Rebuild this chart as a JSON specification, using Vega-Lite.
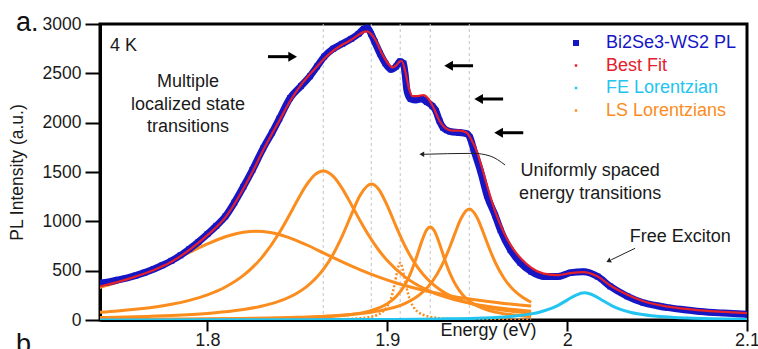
{
"$schema": "https://vega.github.io/schema/vega-lite/v6.json",
"autosize": {"type": "none"},
"padding": {"left": 100, "top": 24, "right": 11, "bottom": 29},
"width": 647,
"height": 296,
"background": "white",
"config": {
  "font": "Liberation Sans",
  "view": {"stroke": "black", "strokeWidth": 3},
  "axis": {"domainColor": "black", "domainWidth": 3, "tickColor": "black", "tickWidth": 2, "labelColor": "#1a1a1a", "titleColor": "#1a1a1a", "titleFontWeight": "normal", "grid": false, "labelFont": "Liberation Sans", "titleFont": "Liberation Sans"}
},
"datasets": {
  "vlines": [{"e": 1.8644, "v": 0, "v2": 3000}, {"e": 1.8911, "v": 0, "v2": 3000}, {"e": 1.9072, "v": 0, "v2": 3000}, {"e": 1.9239, "v": 0, "v2": 3000}, {"e": 1.9456, "v": 0, "v2": 3000}],
  "ls": [
    {"s":"C1","e":1.74,"v":328.8},{"s":"C1","e":1.75,"v":381.2},{"s":"C1","e":1.76,"v":443.2},{"s":"C1","e":1.77,"v":515.5},{"s":"C1","e":1.78,"v":597.2},{"s":"C1","e":1.79,"v":684.8},{"s":"C1","e":1.8,"v":771},{"s":"C1","e":1.81,"v":844},{"s":"C1","e":1.82,"v":890},{"s":"C1","e":1.827,"v":900},{"s":"C1","e":1.835,"v":887},{"s":"C1","e":1.845,"v":837.7},{"s":"C1","e":1.855,"v":762.7},{"s":"C1","e":1.865,"v":675.9},{"s":"C1","e":1.875,"v":588.6},{"s":"C1","e":1.885,"v":507.8},{"s":"C1","e":1.895,"v":436.6},{"s":"C1","e":1.905,"v":375.5},{"s":"C1","e":1.915,"v":324},{"s":"C1","e":1.925,"v":280.8},{"s":"C1","e":1.935,"v":244.7},{"s":"C1","e":1.945,"v":214.5},{"s":"C1","e":1.955,"v":189},{"s":"C1","e":1.965,"v":167.5},{"s":"C1","e":1.975,"v":149.3},{"s":"C1","e":1.98,"v":141.2},
    {"s":"C2","e":1.74,"v":77.8},{"s":"C2","e":1.75,"v":91.2},{"s":"C2","e":1.76,"v":108.2},{"s":"C2","e":1.77,"v":130.2},{"s":"C2","e":1.78,"v":159.5},{"s":"C2","e":1.79,"v":199.2},{"s":"C2","e":1.8,"v":254.6},{"s":"C2","e":1.81,"v":334.1},{"s":"C2","e":1.82,"v":451.6},{"s":"C2","e":1.83,"v":627.3},{"s":"C2","e":1.84,"v":884.1},{"s":"C2","e":1.845,"v":1043.2},{"s":"C2","e":1.85,"v":1211.3},{"s":"C2","e":1.855,"v":1366.4},{"s":"C2","e":1.86,"v":1476.1},{"s":"C2","e":1.8644,"v":1510},{"s":"C2","e":1.87,"v":1455.7},{"s":"C2","e":1.875,"v":1332},{"s":"C2","e":1.88,"v":1171.1},{"s":"C2","e":1.885,"v":1003.6},{"s":"C2","e":1.89,"v":848.6},{"s":"C2","e":1.895,"v":714.5},{"s":"C2","e":1.9,"v":602.3},{"s":"C2","e":1.91,"v":434.8},{"s":"C2","e":1.92,"v":322.9},{"s":"C2","e":1.93,"v":246.9},{"s":"C2","e":1.94,"v":193.7},{"s":"C2","e":1.95,"v":155.5},{"s":"C2","e":1.96,"v":127.2},{"s":"C2","e":1.97,"v":105.9},{"s":"C2","e":1.98,"v":89.4},
    {"s":"C3","e":1.74,"v":24.9},{"s":"C3","e":1.76,"v":32.9},{"s":"C3","e":1.78,"v":45.4},{"s":"C3","e":1.8,"v":66.4},{"s":"C3","e":1.81,"v":82.8},{"s":"C3","e":1.82,"v":105.8},{"s":"C3","e":1.83,"v":139.4},{"s":"C3","e":1.84,"v":191},{"s":"C3","e":1.85,"v":274.5},{"s":"C3","e":1.855,"v":336},{"s":"C3","e":1.86,"v":417.3},{"s":"C3","e":1.865,"v":525.7},{"s":"C3","e":1.87,"v":669.2},{"s":"C3","e":1.875,"v":852.3},{"s":"C3","e":1.88,"v":1065.6},{"s":"C3","e":1.885,"v":1266},{"s":"C3","e":1.8911,"v":1378},{"s":"C3","e":1.895,"v":1329.9},{"s":"C3","e":1.9,"v":1159.4},{"s":"C3","e":1.905,"v":944},{"s":"C3","e":1.91,"v":744.9},{"s":"C3","e":1.915,"v":584.1},{"s":"C3","e":1.92,"v":461.3},{"s":"C3","e":1.925,"v":369},{"s":"C3","e":1.93,"v":299.5},{"s":"C3","e":1.94,"v":206},{"s":"C3","e":1.95,"v":148.9},{"s":"C3","e":1.96,"v":112.1},{"s":"C3","e":1.97,"v":87.1},{"s":"C3","e":1.98,"v":69.6},
    {"s":"C5","e":1.74,"v":3.4},{"s":"C5","e":1.78,"v":5.5},{"s":"C5","e":1.82,"v":10.5},{"s":"C5","e":1.85,"v":20.4},{"s":"C5","e":1.87,"v":37.7},{"s":"C5","e":1.88,"v":55.7},{"s":"C5","e":1.89,"v":89.8},{"s":"C5","e":1.895,"v":119.3},{"s":"C5","e":1.9,"v":164.8},{"s":"C5","e":1.905,"v":238.6},{"s":"C5","e":1.91,"v":363.1},{"s":"C5","e":1.913,"v":475.9},{"s":"C5","e":1.916,"v":622.1},{"s":"C5","e":1.919,"v":786.9},{"s":"C5","e":1.922,"v":915.7},{"s":"C5","e":1.9239,"v":943},{"s":"C5","e":1.926,"v":909.9},{"s":"C5","e":1.929,"v":776.2},{"s":"C5","e":1.932,"v":611.5},{"s":"C5","e":1.935,"v":467.2},{"s":"C5","e":1.938,"v":356.8},{"s":"C5","e":1.942,"v":254.3},{"s":"C5","e":1.946,"v":187.2},{"s":"C5","e":1.95,"v":142.2},{"s":"C5","e":1.955,"v":104.9},{"s":"C5","e":1.96,"v":80.1},{"s":"C5","e":1.97,"v":50.8},{"s":"C5","e":1.98,"v":34.9},
    {"s":"C6","e":1.74,"v":6},{"s":"C6","e":1.78,"v":9.2},{"s":"C6","e":1.82,"v":15.8},{"s":"C6","e":1.85,"v":27},{"s":"C6","e":1.87,"v":42.6},{"s":"C6","e":1.89,"v":76.3},{"s":"C6","e":1.9,"v":109.8},{"s":"C6","e":1.91,"v":169.6},{"s":"C6","e":1.915,"v":217.9},{"s":"C6","e":1.92,"v":287.5},{"s":"C6","e":1.925,"v":389.8},{"s":"C6","e":1.93,"v":540.4},{"s":"C6","e":1.935,"v":750.3},{"s":"C6","e":1.938,"v":895.2},{"s":"C6","e":1.941,"v":1028.3},{"s":"C6","e":1.9456,"v":1125},{"s":"C6","e":1.95,"v":1035.9},{"s":"C6","e":1.953,"v":904.8},{"s":"C6","e":1.956,"v":759.8},{"s":"C6","e":1.96,"v":585.4},{"s":"C6","e":1.965,"v":420.9},{"s":"C6","e":1.97,"v":308.5},{"s":"C6","e":1.975,"v":232.4},{"s":"C6","e":1.98,"v":179.7}
  ],
  "c4": [{"e":1.74,"v":0.3},{"e":1.8,"v":0.8},{"e":1.85,"v":2.8},{"e":1.87,"v":6.6},{"e":1.88,"v":12.3},{"e":1.89,"v":29.8},{"e":1.895,"v":56.3},{"e":1.898,"v":92.2},{"e":1.9,"v":136.8},{"e":1.902,"v":215.6},{"e":1.904,"v":353.7},{"e":1.9055,"v":491.3},{"e":1.9072,"v":580},{"e":1.909,"v":482.3},{"e":1.9105,"v":345.1},{"e":1.9125,"v":210.5},{"e":1.915,"v":120.8},{"e":1.918,"v":70},{"e":1.922,"v":39.5},{"e":1.93,"v":17.3},{"e":1.94,"v":8.5},{"e":1.96,"v":3.3},{"e":1.98,"v":1.7}],
  "fe": [{"e":1.74,"v":1},{"e":1.8,"v":1.6},{"e":1.85,"v":2.7},{"e":1.9,"v":5.7},{"e":1.93,"v":10.7},{"e":1.95,"v":18.4},{"e":1.96,"v":25.8},{"e":1.97,"v":38.4},{"e":1.98,"v":61.9},{"e":1.985,"v":81.3},{"e":1.99,"v":109.3},{"e":1.995,"v":149.1},{"e":2.0,"v":201.1},{"e":2.005,"v":253.2},{"e":2.0097,"v":275},{"e":2.015,"v":247.8},{"e":2.02,"v":194.4},{"e":2.025,"v":143.7},{"e":2.03,"v":105.4},{"e":2.035,"v":78.6},{"e":2.04,"v":60},{"e":2.05,"v":37.4},{"e":2.06,"v":25.3},{"e":2.07,"v":18.1},{"e":2.08,"v":13.5},{"e":2.09,"v":10.5},{"e":2.1,"v":8.4}],
  "pl": [{"e":1.74,"v":375},{"e":1.745,"v":385},{"e":1.75,"v":405},{"e":1.755,"v":425},{"e":1.76,"v":450},{"e":1.765,"v":480},{"e":1.77,"v":515},{"e":1.775,"v":555},{"e":1.78,"v":600},{"e":1.785,"v":655},{"e":1.79,"v":720},{"e":1.795,"v":790},{"e":1.8,"v":870},{"e":1.805,"v":955},{"e":1.81,"v":1050},{"e":1.815,"v":1190},{"e":1.82,"v":1350},{"e":1.825,"v":1520},{"e":1.831,"v":1740},{"e":1.836,"v":1900},{"e":1.84,"v":2040},{"e":1.846,"v":2250},{"e":1.852,"v":2370},{"e":1.857,"v":2470},{"e":1.861,"v":2570},{"e":1.865,"v":2670},{"e":1.87,"v":2750},{"e":1.875,"v":2800},{"e":1.88,"v":2850},{"e":1.884,"v":2900},{"e":1.887,"v":2950},{"e":1.889,"v":2960},{"e":1.891,"v":2900},{"e":1.893,"v":2820},{"e":1.896,"v":2700},{"e":1.899,"v":2600},{"e":1.902,"v":2540},{"e":1.905,"v":2570},{"e":1.907,"v":2620},{"e":1.909,"v":2600},{"e":1.91,"v":2480},{"e":1.911,"v":2320},{"e":1.913,"v":2240},{"e":1.916,"v":2230},{"e":1.919,"v":2240},{"e":1.922,"v":2210},{"e":1.925,"v":2170},{"e":1.927,"v":2120},{"e":1.929,"v":2020},{"e":1.931,"v":1950},{"e":1.935,"v":1910},{"e":1.94,"v":1900},{"e":1.944,"v":1890},{"e":1.946,"v":1850},{"e":1.948,"v":1730},{"e":1.952,"v":1500},{"e":1.9555,"v":1260},{"e":1.96,"v":1060},{"e":1.963,"v":910},{"e":1.9685,"v":710},{"e":1.974,"v":580},{"e":1.98,"v":490},{"e":1.987,"v":440},{"e":1.995,"v":440},{"e":2.002,"v":480},{"e":2.009,"v":490},{"e":2.017,"v":440},{"e":2.024,"v":340},{"e":2.0335,"v":240},{"e":2.0424,"v":175},{"e":2.05,"v":145},{"e":2.056,"v":125},{"e":2.065,"v":104},{"e":2.074,"v":86},{"e":2.087,"v":70},{"e":2.1,"v":58}],
  "fit": [{"e":1.74,"v":340},{"e":1.75,"v":385},{"e":1.76,"v":440},{"e":1.77,"v":505},{"e":1.78,"v":590},{"e":1.79,"v":710},{"e":1.8,"v":860},{"e":1.81,"v":1040},{"e":1.82,"v":1330},{"e":1.825,"v":1500},{"e":1.831,"v":1720},{"e":1.836,"v":1890},{"e":1.84,"v":2020},{"e":1.846,"v":2220},{"e":1.852,"v":2380},{"e":1.857,"v":2490},{"e":1.861,"v":2570},{"e":1.865,"v":2650},{"e":1.87,"v":2730},{"e":1.875,"v":2790},{"e":1.88,"v":2840},{"e":1.884,"v":2890},{"e":1.887,"v":2920},{"e":1.889,"v":2925},{"e":1.891,"v":2900},{"e":1.894,"v":2820},{"e":1.897,"v":2700},{"e":1.9,"v":2610},{"e":1.903,"v":2560},{"e":1.905,"v":2580},{"e":1.907,"v":2620},{"e":1.908,"v":2625},{"e":1.91,"v":2520},{"e":1.912,"v":2350},{"e":1.914,"v":2270},{"e":1.917,"v":2270},{"e":1.92,"v":2280},{"e":1.923,"v":2240},{"e":1.926,"v":2140},{"e":1.929,"v":2020},{"e":1.932,"v":1950},{"e":1.936,"v":1920},{"e":1.94,"v":1920},{"e":1.944,"v":1900},{"e":1.947,"v":1820},{"e":1.95,"v":1700},{"e":1.953,"v":1520},{"e":1.956,"v":1330},{"e":1.96,"v":1100},{"e":1.965,"v":880},{"e":1.97,"v":720},{"e":1.975,"v":610},{"e":1.98,"v":530},{"e":1.987,"v":470},{"e":1.995,"v":455},{"e":2.002,"v":475},{"e":2.009,"v":485},{"e":2.017,"v":440},{"e":2.024,"v":350},{"e":2.0335,"v":255},{"e":2.0424,"v":190},{"e":2.056,"v":135},{"e":2.074,"v":98},{"e":2.087,"v":82},{"e":2.1,"v":70}],
  "shafts": [{"e":1.8337,"e2":1.8474,"v":2669},{"e":1.9341,"e2":1.9477,"v":2577},{"e":1.9508,"e2":1.9644,"v":2240},{"e":1.9619,"e2":1.9756,"v":1898}],
  "headR": [{"e":1.8474,"v":2669}],
  "headL": [{"e":1.9341,"v":2577},{"e":1.9508,"v":2240},{"e":1.9619,"v":1898}],
  "curve": [{"e":1.9195,"v":1679},{"e":1.9477,"v":1689},{"e":1.9572,"v":1662},{"e":1.9655,"v":1571}],
  "curveHead": [{"e":1.9192,"v":1679}],
  "fxLine": [{"e":2.0378,"v":727,"e2":2.0245,"v2":610}],
  "fxHead": [{"e":2.0234,"v":601}],
  "notesC": [{"e":1.7892,"v":2365,"t":"Multiple"},{"e":1.7892,"v":2128,"t":"localized state"},{"e":1.7892,"v":1909,"t":"transitions"},{"e":2.0128,"v":1456,"t":"Uniformly spaced"},{"e":2.0128,"v":1228,"t":"energy transitions"},{"e":2.0629,"v":791,"t":"Free Exciton"}],
  "notesL": [{"e":1.7459,"v":2729,"t":"4 K"}],
  "panel": [{"e":1.6936,"v":2932,"t":"a."},{"e":1.6936,"v":-334,"t":"b."}]
},
"encoding": {
  "x": {"field": "e", "type": "quantitative", "scale": {"domain": [1.7403, 2.1], "nice": false, "zero": false},
        "axis": {"values": [1.8, 1.9, 2, 2.1], "format": "~g", "tickSize": 11, "labelPadding": 0, "labelFontSize": 18, "title": "Energy (eV)", "titleFontSize": 18, "titleX": 388, "titleY": 1, "titleBaseline": "top", "titleAlign": "center", "labelFlush": false}},
  "y": {"field": "v", "type": "quantitative", "scale": {"domain": [0, 3000], "nice": false},
        "axis": {"values": [0, 500, 1000, 1500, 2000, 2500, 3000], "format": "d", "tickSize": 15, "labelPadding": 4, "labelFontSize": 17.5, "title": "PL Intensity (a.u.)", "titleFontSize": 17.5, "titlePadding": 16}}
},
"layer": [
  {"data": {"name": "vlines"}, "mark": {"type": "rule", "color": "#c4c4c4", "strokeWidth": 1, "strokeDash": [3, 3]}, "encoding": {"y2": {"field": "v2"}}},
  {"data": {"name": "ls"}, "mark": {"type": "line", "strokeWidth": 3, "interpolate": "monotone", "clip": true},
   "encoding": {"detail": {"field": "s"}, "color": {"datum": "LS Lorentzians",
     "scale": {"domain": ["Bi2Se3-WS2 PL", "Best Fit", "FE Lorentzian", "LS Lorentzians"], "range": ["#1616c4", "#e4202a", "#22c4f0", "#fb8c1e"]},
     "legend": {"title": null, "orient": "top-right", "offset": 10, "padding": 0, "labelFontSize": 18, "labelFont": "Liberation Sans", "symbolType": "square", "symbolSize": 36, "labelOffset": 21, "rowPadding": 4.5,
       "encode": {"symbols": {"update": {"fill": {"scale": "color", "field": "value"}, "stroke": {"value": "transparent"}, "strokeWidth": {"value": 0}, "shape": {"value": "square"}, "opacity": {"value": 1}, "size": {"signal": "datum.value === 'Bi2Se3-WS2 PL' ? 36 : 6"}}},
                  "labels": {"update": {"fill": {"scale": "color", "field": "value"}}}}}}}},
  {"data": {"name": "c4"}, "mark": {"type": "line", "strokeWidth": 2.5, "interpolate": "monotone", "strokeDash": [2, 2], "clip": true}, "encoding": {"color": {"datum": "LS Lorentzians"}}},
  {"data": {"name": "fe"}, "mark": {"type": "line", "strokeWidth": 3, "interpolate": "monotone", "clip": true}, "encoding": {"color": {"datum": "FE Lorentzian"}}},
  {"data": {"name": "pl"}, "mark": {"type": "line", "strokeWidth": 7, "interpolate": "monotone", "clip": true}, "encoding": {"color": {"datum": "Bi2Se3-WS2 PL"}}},
  {"data": {"name": "pl"}, "mark": {"type": "point", "shape": "square", "filled": true, "size": 34, "opacity": 1, "clip": true}, "encoding": {"color": {"datum": "Bi2Se3-WS2 PL"}}},
  {"data": {"name": "fit"}, "mark": {"type": "line", "strokeWidth": 2.2, "interpolate": "monotone", "clip": true}, "encoding": {"color": {"datum": "Best Fit"}}},
  {"data": {"name": "shafts"}, "mark": {"type": "rule", "color": "black", "strokeWidth": 3}, "encoding": {"x2": {"field": "e2"}}},
  {"data": {"name": "headR"}, "mark": {"type": "point", "shape": "triangle-right", "filled": true, "color": "black", "size": 100, "opacity": 1}},
  {"data": {"name": "headL"}, "mark": {"type": "point", "shape": "triangle-left", "filled": true, "color": "black", "size": 100, "opacity": 1}},
  {"data": {"name": "curve"}, "mark": {"type": "line", "color": "#222", "strokeWidth": 1, "interpolate": "monotone"}},
  {"data": {"name": "curveHead"}, "mark": {"type": "point", "shape": "triangle-left", "filled": true, "color": "#222", "size": 30, "opacity": 1}},
  {"data": {"name": "fxLine"}, "mark": {"type": "rule", "color": "#222", "strokeWidth": 1}, "encoding": {"x2": {"field": "e2"}, "y2": {"field": "v2"}}},
  {"data": {"name": "fxHead"}, "mark": {"type": "point", "shape": "triangle", "filled": true, "color": "#222", "size": 30, "angle": 244, "opacity": 1}},
  {"data": {"name": "notesC"}, "mark": {"type": "text", "fontSize": 18, "align": "center", "baseline": "alphabetic", "color": "#1a1a1a"}, "encoding": {"text": {"field": "t"}}},
  {"data": {"name": "notesL"}, "mark": {"type": "text", "fontSize": 18, "align": "left", "baseline": "alphabetic", "color": "#1a1a1a"}, "encoding": {"text": {"field": "t"}}},
  {"data": {"name": "panel"}, "mark": {"type": "text", "fontSize": 27, "align": "left", "baseline": "alphabetic", "color": "#111"}, "encoding": {"text": {"field": "t"}}}
]
}
